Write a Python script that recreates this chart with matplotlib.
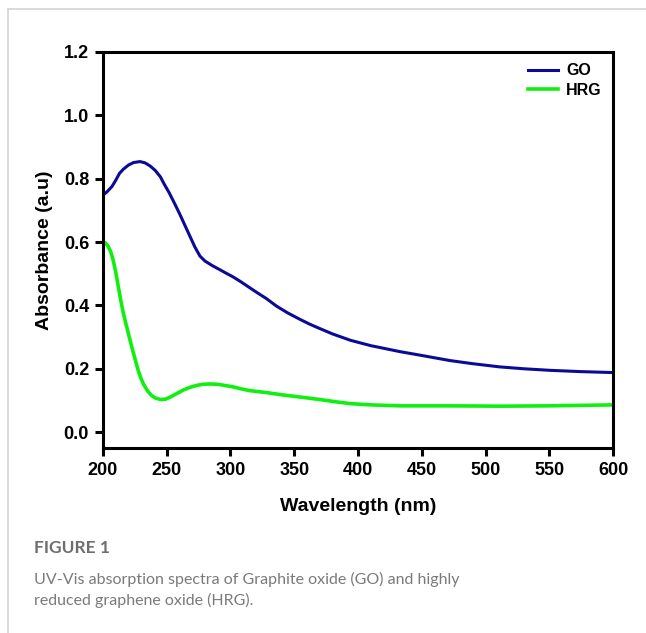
import matplotlib
matplotlib.use('Agg')
import matplotlib.pyplot as plt
from matplotlib.lines import Line2D

# GO spectrum
go_wl = [200, 203, 207, 210, 213, 216, 220, 224, 229, 233, 237, 241, 245,
         248, 252, 256, 260, 264, 268, 272, 276, 280, 286, 292, 296, 302,
         308, 315, 321, 328, 336, 345, 354, 362, 370, 380, 394, 410, 433,
         450, 472, 490, 511, 530, 551, 575, 600]
go_abs = [0.748, 0.758, 0.775, 0.795, 0.817, 0.830, 0.843, 0.851, 0.854,
          0.850, 0.840, 0.826, 0.806, 0.783, 0.755, 0.723, 0.690, 0.655,
          0.620, 0.585, 0.556, 0.540, 0.525, 0.512, 0.503, 0.490, 0.475,
          0.456, 0.440, 0.422, 0.398, 0.376, 0.357, 0.341, 0.327, 0.310,
          0.290, 0.273, 0.254, 0.242, 0.226, 0.216, 0.206, 0.200, 0.195,
          0.191, 0.188]

# HRG spectrum
hrg_wl = [200, 202, 204, 206, 208, 210, 212, 214, 216, 218, 220, 222, 224,
          226, 228, 230, 232, 235, 238, 241, 245, 249, 253, 258, 263, 268,
          273, 278, 284, 290, 296, 302, 308, 315, 328, 340, 354, 370, 382,
          394, 410, 433, 450, 472, 511, 550, 600]
hrg_abs = [0.601, 0.597, 0.587, 0.570, 0.543, 0.505, 0.460, 0.415, 0.375,
           0.342, 0.310, 0.278, 0.248, 0.218, 0.190, 0.168, 0.150, 0.130,
           0.116, 0.108, 0.103, 0.104, 0.111, 0.122, 0.133, 0.141, 0.147,
           0.151, 0.152, 0.151, 0.147, 0.143, 0.137, 0.131, 0.125, 0.118,
           0.111, 0.103, 0.096, 0.090, 0.086, 0.083, 0.083, 0.083, 0.082,
           0.083, 0.086]

x_ticks = [200, 250, 300, 350, 400, 450, 500, 550, 600]
y_ticks = [0.0, 0.2, 0.4, 0.6, 0.8, 1.0, 1.2]

plt.rcParams['font.family'] = ['Liberation Sans', 'DejaVu Sans']

fig = plt.figure(figsize=(6.46, 6.33), dpi=100)
ax = fig.add_axes([0.1594, 0.2923, 0.7896, 0.6256])

ax.plot(go_wl, go_abs, color='#0a0a96', lw=2.2, label='GO')
ax.plot(hrg_wl, hrg_abs, color='#10f010', lw=2.6, label='HRG')

ax.set_xlim(200, 600)
ax.set_ylim(-0.05, 1.2)
ax.set_xticks(x_ticks)
ax.set_yticks(y_ticks)
ax.set_xticklabels([str(v) for v in x_ticks])
ax.set_yticklabels(['%.1f' % v for v in y_ticks])
for s in ax.spines.values():
    s.set_linewidth(2.2)
ax.tick_params(width=2.2, length=6, labelsize=13, pad=4)
for lab in ax.get_xticklabels() + ax.get_yticklabels():
    lab.set_fontweight('bold')

ax.set_xlabel('Wavelength (nm)', fontsize=14, fontweight='bold', labelpad=14)
ax.set_ylabel('Absorbance (a.u)', fontsize=14, fontweight='bold', labelpad=8)

leg = ax.legend(loc='upper right', frameon=False, handlelength=1.9,
                prop={'weight': 'bold', 'size': 11.5}, borderaxespad=0.3,
                labelspacing=0.3, handletextpad=0.5)

# card border (top and left)
fig.add_artist(Line2D([8 / 646, 1], [1 - 9 / 633, 1 - 9 / 633], color='#d4d4d4', lw=1.2))
fig.add_artist(Line2D([8 / 646, 8 / 646], [0, 1 - 9 / 633], color='#d4d4d4', lw=1.2))

fig.text(34 / 646, 1 - 548 / 633, 'FIGURE 1', fontsize=12.5, fontweight='bold',
         color='#6e6e6e', family='Lato', va='center')
fig.text(34 / 646, 1 - 590 / 633,
         'UV-Vis absorption spectra of Graphite oxide (GO) and highly\n'
         'reduced graphene oxide (HRG).',
         fontsize=11.5, color='#7a7a7a', family='Lato', va='center',
         linespacing=1.5)

fig.savefig('out.png', dpi=100)
